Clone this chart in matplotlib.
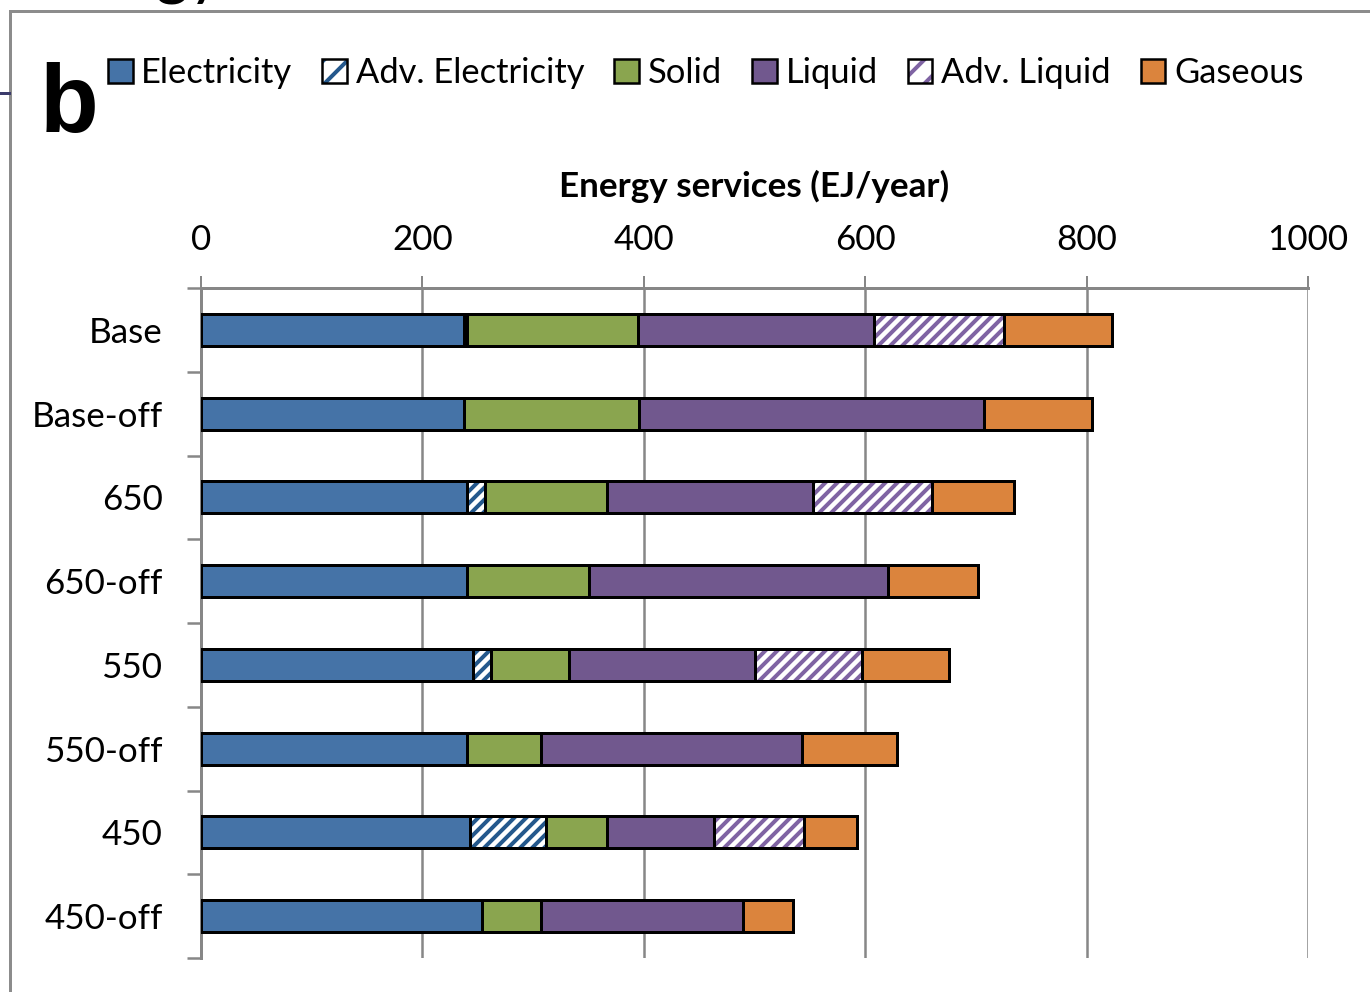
import numpy as np
import matplotlib
matplotlib.use("Agg")
import matplotlib.pyplot as plt
from matplotlib.lines import Line2D
from matplotlib.patches import Patch

# Energy services by carrier (EJ/year) for each scenario
categories = ["Base", "Base-off", "650", "650-off", "550", "550-off", "450", "450-off"]
electricity = [237.6, 237.8, 240.6, 240.6, 245.4, 240.6, 243.0, 254.1]
adv_electricity = [3.0, 0.0, 16.3, 0.0, 16.6, 0.0, 68.4, 0.0]
solid = [154.6, 158.1, 109.8, 110.2, 70.7, 66.3, 55.3, 52.8]
liquid = [213.0, 311.7, 186.4, 270.1, 168.1, 235.7, 97.0, 183.0]
adv_liquid = [117.5, 0.0, 107.0, 0.0, 96.6, 0.0, 81.0, 0.0]
gaseous = [97.6, 97.4, 74.0, 81.3, 78.6, 86.4, 47.6, 44.6]

x_ticks = [0, 200, 400, 600, 800, 1000]

W, H, DPI = 1370, 992, 72
plt.rcParams["font.family"] = ["Lato", "DejaVu Sans"]
plt.rcParams["hatch.linewidth"] = 4.0

fig = plt.figure(figsize=(W / DPI, H / DPI), dpi=DPI)
ax = fig.add_axes([201 / W, 34 / H, (1308 - 201) / W, (958 - 288) / H])

series = [
    ("Electricity", electricity, "#4573A7", None),
    ("Adv. Electricity", adv_electricity, "#24588C", "//"),
    ("Solid", solid, "#8AA54F", None),
    ("Liquid", liquid, "#71588E", None),
    ("Adv. Liquid", adv_liquid, "#7F64A3", "//"),
    ("Gaseous", gaseous, "#DB843D", None),
]

y = np.arange(len(categories))
left = np.zeros(len(categories))
bar_h = 0.38
edge_w = 3.0
handles = []
for name, vals, color, hatch in series:
    vals = np.asarray(vals, dtype=float)
    keep = vals > 0
    if hatch:
        ax.barh(y[keep], vals[keep], left=left[keep], height=bar_h,
                facecolor="white", edgecolor=color, hatch=hatch,
                linewidth=0, zorder=3)
        ax.barh(y[keep], vals[keep], left=left[keep], height=bar_h,
                fill=False, edgecolor="black", linewidth=edge_w, zorder=4)
        h = Patch(facecolor="white", edgecolor="black", hatch="/",
                  linewidth=2.5, label=name)
        h._hatch_color = matplotlib.colors.to_rgba(color)
    else:
        ax.barh(y[keep], vals[keep], left=left[keep], height=bar_h,
                color=color, edgecolor="black", linewidth=edge_w, zorder=4)
        h = Patch(facecolor=color, edgecolor="black", linewidth=2.5, label=name)
    handles.append(h)
    left = left + vals

grid_color = "#878787"
ax.set_xlim(0, 1000)
ax.set_ylim(len(categories) - 0.5, -0.5)
ax.xaxis.tick_top()
ax.xaxis.set_label_position("top")
ax.set_xticks(x_ticks)
ax.set_xticklabels([str(t) for t in x_ticks])
ax.tick_params(axis="x", which="major", direction="out", length=12, width=2,
               color=grid_color, labelsize=35, pad=20)
ax.set_yticks(y)
ax.set_yticklabels(categories)
ax.set_yticks(np.arange(len(categories) + 1) - 0.5, minor=True)
ax.tick_params(axis="y", which="major", length=0, labelsize=35, pad=38)
ax.tick_params(axis="y", which="minor", direction="out", length=14, width=2.5,
               color=grid_color)
ax.xaxis.grid(True, color=grid_color, linewidth=2.5, zorder=0)
ax.set_axisbelow(True)
for s in ("right", "bottom"):
    ax.spines[s].set_visible(False)
for s in ("top", "left"):
    ax.spines[s].set_color(grid_color)
    ax.spines[s].set_linewidth(3)
ax.set_xlabel("Energy services (EJ/year)", fontsize=35, fontweight="bold",
              labelpad=27)

fig.legend(handles=handles, loc="center left", ncol=6,
           bbox_to_anchor=(94 / W, 1 - 73 / H), frameon=False,
           fontsize=34.5, handlelength=0.72, handleheight=0.72,
           handletextpad=0.25, columnspacing=0.87, borderaxespad=0)

# panel letter and surrounding frame
fig.text(40 / W, 1 - 132 / H, "b", fontsize=96, fontweight="bold",
         family="Liberation Sans", ha="left", va="baseline")
frame_c = "#8C8C8C"
fig.add_artist(Line2D([10 / W, 1.0], [1 - 11 / H, 1 - 11 / H], color=frame_c,
                      linewidth=3, transform=fig.transFigure))
fig.add_artist(Line2D([10 / W, 10 / W], [1 - 11 / H, 0], color=frame_c,
                      linewidth=3, transform=fig.transFigure))
fig.add_artist(Line2D([0, 9 / W], [1 - 93 / H, 1 - 93 / H], color="#3B3B6B",
                      linewidth=3, transform=fig.transFigure))
fig.text(222 / W, 1 + 8 / H, "Energy", fontsize=64, ha="right", va="baseline")

fig.savefig("out.png", dpi=DPI)
